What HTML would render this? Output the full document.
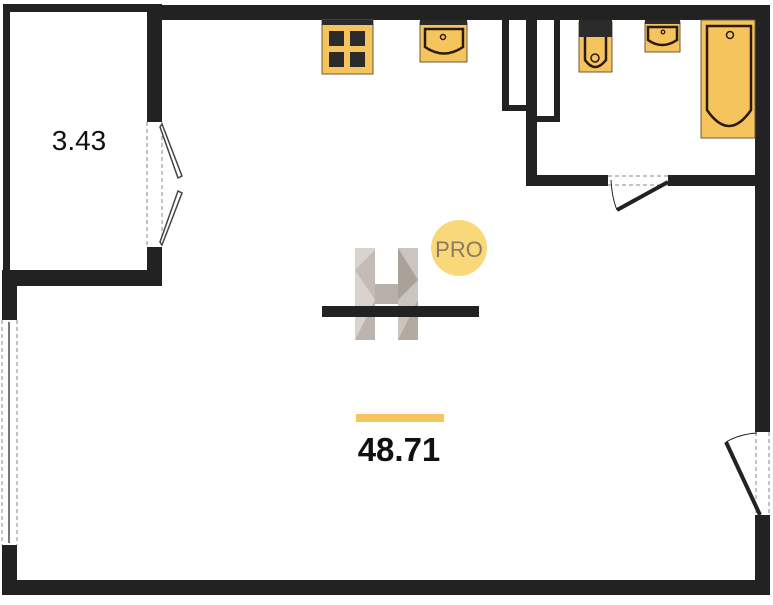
<!DOCTYPE html>
<html><head><style>
body{margin:0;background:#fff;width:773px;height:600px;overflow:hidden}
</style></head><body>
<svg width="773" height="600" viewBox="0 0 773 600" xmlns="http://www.w3.org/2000/svg">
<rect width="773" height="600" fill="#fff"/>
<g fill="#222">
<rect x="148" y="5" width="622" height="15"/>
<rect x="3" y="4" width="159" height="8"/>
<rect x="3" y="4" width="7" height="281"/>
<rect x="147" y="4" width="15" height="118"/>
<rect x="147" y="247" width="15" height="39"/>
<rect x="3" y="270" width="159" height="16"/>
<rect x="2" y="270" width="15" height="50"/>
<rect x="2" y="545" width="15" height="50"/>
<rect x="2" y="580" width="768" height="15"/>
<rect x="755" y="5" width="15" height="427"/>
<rect x="755" y="515" width="15" height="80"/>
<rect x="526" y="20" width="11" height="166"/>
<rect x="526" y="175" width="82" height="11"/>
<rect x="668" y="175" width="87" height="11"/>
<rect x="502" y="20" width="7" height="91"/>
<rect x="502" y="105" width="24" height="6"/>
<rect x="554" y="20" width="6" height="102"/>
<rect x="537" y="116" width="23" height="6"/>
</g>
<g fill="none" stroke="#888" stroke-width="1" stroke-dasharray="4,3">
<line x1="147" y1="122" x2="147" y2="247"/><line x1="162" y1="122" x2="162" y2="247"/>
<line x1="2" y1="320" x2="2" y2="545"/><line x1="17" y1="320" x2="17" y2="545"/>
<line x1="608" y1="176" x2="668" y2="176"/><line x1="608" y1="185" x2="668" y2="185"/>
<line x1="756" y1="432" x2="756" y2="515"/><line x1="769" y1="432" x2="769" y2="515"/>
</g>
<g stroke="#222" fill="none">
<line x1="9" y1="322" x2="9" y2="543" stroke="#777" stroke-width="2"/>
<polygon points="162,124 182,176 178,178 160,127" fill="#fff" stroke="#444" stroke-width="1.5"/>
<polygon points="162,245 182,193 178,191 160,242" fill="#fff" stroke="#444" stroke-width="1.5"/>
<line x1="668" y1="182" x2="617" y2="210" stroke-width="4"/>
<path d="M611 180 Q612 198 617 210" stroke-width="1"/>
<line x1="760" y1="515" x2="726" y2="442" stroke-width="4"/>
<path d="M726 442 Q740 434 757 433" stroke-width="1"/>
</g>
<g stroke="#6b5a3a" stroke-width="1">
<rect x="322" y="20" width="51" height="54" fill="#f5c45c"/>
<rect x="420" y="22" width="47" height="40" fill="#f5c45c"/>
<rect x="579" y="22" width="33" height="50" fill="#f5c45c"/>
<rect x="645" y="22" width="35" height="30" fill="#f5c45c"/>
<rect x="701" y="20" width="54" height="118" fill="#f5c45c"/>
</g>
<g fill="#2b2b2b">
<rect x="322" y="20" width="51" height="5"/>
<rect x="329" y="31" width="15" height="15"/><rect x="350" y="31" width="15" height="15"/>
<rect x="329" y="52" width="15" height="15"/><rect x="350" y="52" width="15" height="15"/>
<rect x="420" y="20" width="47" height="5"/>
<rect x="579" y="20" width="33" height="17"/>
<rect x="645" y="20" width="35" height="4"/>
</g>
<g fill="none" stroke="#2b1a0a" stroke-width="2.5">
<path d="M425 29 L463 29 L463 47 Q444 60 425 47 Z"/>
<circle cx="443" cy="37" r="2.5" stroke-width="1.5"/>
<path d="M585 37 L585 60 Q595 74 606 60 L606 37"/>
<circle cx="595" cy="58" r="4" stroke-width="1.5"/>
<path d="M648 27 L677 27 L677 40 Q662 50 648 40 Z"/>
<circle cx="663" cy="32" r="1.8" stroke-width="1.3"/>
<path d="M707 26 L751 26 L751 110 Q729 142 707 110 Z"/>
<circle cx="730" cy="35" r="3.5" stroke-width="1.5"/>
</g>
<g>
<rect x="355" y="248" width="20" height="92" fill="#d8d3ce"/>
<rect x="398" y="248" width="20" height="92" fill="#cbc5bf"/>
<rect x="375" y="284" width="23" height="20" fill="#b8b0a8"/>
<polygon points="355,270 375,250 375,300" fill="#c4bcb4"/>
<polygon points="398,248 418,280 398,300" fill="#aaa198"/>
<polygon points="355,340 375,300 375,340" fill="#bdb5ad"/>
<polygon points="398,340 418,300 418,340" fill="#b2a9a0"/>
<rect x="322" y="306" width="157" height="11" fill="#222"/>
<circle cx="459" cy="248" r="28" fill="#f8d878"/>
<text x="459" y="257" font-family="Liberation Sans, sans-serif" font-size="22" fill="#8a7a60" text-anchor="middle">PRO</text>
</g>
<rect x="356" y="414" width="88" height="8" fill="#f5c45c"/>
<text x="399" y="461" font-family="Liberation Sans, sans-serif" font-size="33" font-weight="bold" fill="#111" text-anchor="middle">48.71</text>
<text x="79" y="150" font-family="Liberation Sans, sans-serif" font-size="28" fill="#111" text-anchor="middle">3.43</text>
</svg>
</body></html>
